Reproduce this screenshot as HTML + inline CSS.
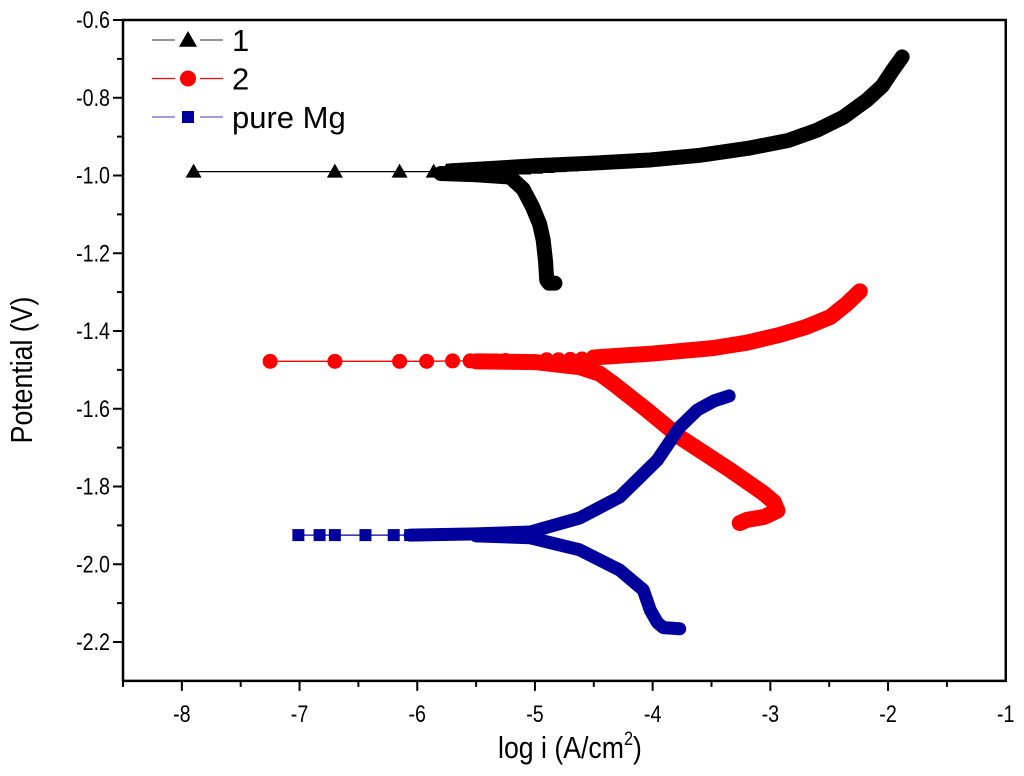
<!DOCTYPE html>
<html><head><meta charset="utf-8"><style>
body{margin:0;background:#fff}
svg{display:block;font-family:"Liberation Sans",sans-serif}
</style></head><body>
<svg id="chart" width="1024" height="776" viewBox="0 0 1024 776">
<g id="axes"></g>
<g id="series"></g>
<g id="legend"></g>
</svg>
<script>
// data
const xTicks=[-8,-7,-6,-5,-4,-3,-2,-1];
const yTicks=[-0.6,-0.8,-1.0,-1.2,-1.4,-1.6,-1.8,-2.0,-2.2];
// series 1
const s1SparseX=[-7.9,-6.7,-6.15,-5.86,-5.75,-5.65,-5.55,-5.45,-5.38,-5.3,-5.22,-5.1,-5.0,-4.9,-4.8,-4.7,-4.6,-4.5,-4.4];
const s1SparseY=[-0.99,-0.99,-0.99,-0.99,-0.988,-0.988,-0.987,-0.987,-0.986,-0.985,-0.984,-0.982,-0.98,-0.978,-0.976,-0.974,-0.972,-0.97,-0.968];
const s1CathX=[-5.8,-5.5,-5.21,-5.1,-5.02,-4.96,-4.93,-4.91,-4.9,-4.88,-4.83];
const s1CathY=[-0.995,-0.998,-1.004,-1.035,-1.081,-1.125,-1.166,-1.22,-1.269,-1.277,-1.277];
const s1AnodX=[-5.72,-5.0,-4.5,-4.02,-3.6,-3.17,-2.85,-2.6,-2.38,-2.18,-2.05,-1.96,-1.88];
const s1AnodY=[-0.988,-0.975,-0.968,-0.96,-0.948,-0.929,-0.91,-0.883,-0.85,-0.806,-0.77,-0.729,-0.695];
// series 2
const s2SparseX=[-7.25,-6.7,-6.15,-5.92,-5.7,-5.55,-5.45,-5.35,-5.25,-4.9,-4.8,-4.7,-4.6,-4.5];
const s2SparseY=[-1.478,-1.478,-1.478,-1.478,-1.477,-1.477,-1.477,-1.477,-1.476,-1.474,-1.474,-1.473,-1.472,-1.47];
const s2AnodX=[-4.5,-4.0,-3.49,-3.2,-2.92,-2.7,-2.49,-2.35,-2.24];
const s2AnodY=[-1.468,-1.458,-1.444,-1.43,-1.41,-1.39,-1.364,-1.33,-1.298];
const s2CathX=[-5.5,-5.0,-4.62,-4.45,-4.34,-4.05,-3.77,-3.34,-3.06,-2.97,-2.94,-3.05,-3.2,-3.26];
const s2CathY=[-1.478,-1.48,-1.493,-1.51,-1.534,-1.603,-1.673,-1.758,-1.817,-1.84,-1.862,-1.878,-1.886,-1.894];
// series 3 (pure Mg)
const s3SparseX=[-7.01,-6.83,-6.7,-6.44,-6.2,-6.06];
const s3SparseY=[-1.925,-1.925,-1.925,-1.925,-1.925,-1.925];
const s3AnodX=[-6.06,-5.5,-5.04,-4.62,-4.28,-3.96,-3.77,-3.62,-3.48,-3.35];
const s3AnodY=[-1.925,-1.922,-1.917,-1.881,-1.827,-1.732,-1.647,-1.603,-1.58,-1.567];
const s3CathX=[-5.5,-5.04,-4.62,-4.28,-4.08,-4.02,-3.96,-3.91,-3.77];
const s3CathY=[-1.927,-1.932,-1.963,-2.015,-2.066,-2.118,-2.15,-2.163,-2.166];

const X0=123,XS=117.7,Y0=20,YS=388.75;
const px=x=>X0+(x+8.5)*XS, py=y=>Y0+(-0.6-y)*YS;
const NS="http://www.w3.org/2000/svg";
function mk(tag,attrs,parent){const e=document.createElementNS(NS,tag);for(const k in attrs)e.setAttribute(k,attrs[k]);parent.appendChild(e);return e;}
const axes=document.getElementById('axes'),ser=document.getElementById('series'),leg=document.getElementById('legend');
const L=px(-8.5),R=px(-1),T=py(-0.6),B=py(-2.3);
let frame=mk('rect',{x:L,y:T,width:R-L,height:B-T,fill:'none',stroke:'#000','stroke-width':2.5},axes);


for(let v=-8.5;v<=-1.01;v+=0.5){const major=Math.abs(v-Math.round(v))<1e-6;
 let t=mk('line',{x1:px(v),x2:px(v),y1:B,y2:B+(major?10:6),stroke:'#000','stroke-width':2},axes);
 
 }
xTicks.forEach(v=>{const x=px(v);let t=mk('text',{x:0,y:0,'text-anchor':'middle','font-size':24,transform:`translate(${x},${B+41}) scale(0.82,1)`},axes);t.textContent=v;
 
 });
for(let i=0;i<=16;i++){const v=-0.6-i*0.1;const major=i%2===0;
 let t=mk('line',{x1:L-(major?10:6),x2:L,y1:py(v),y2:py(v),stroke:'#000','stroke-width':2},axes);
 
 }
yTicks.forEach(v=>{let t=mk('text',{x:0,y:0,'text-anchor':'end','font-size':24,transform:`translate(${L-13},${py(v)+8}) scale(0.82,1)`},axes);t.textContent=v.toFixed(1);
 
 });
let xt=mk('text',{x:0,y:0,'text-anchor':'middle','font-size':31,transform:'translate(570,758) scale(0.86,1)'},axes);
xt.innerHTML='log i (A/cm<tspan font-size="19" dy="-13">2</tspan><tspan dy="13">)</tspan>';


let yt=mk('text',{x:0,y:0,'text-anchor':'middle','font-size':31,transform:'translate(32,370) rotate(-90) scale(0.86,1)'},axes);
yt.textContent='Potential (V)';



function marker(type,x,y,color,g,s){
 let m;
 if(type==='tri') m=mk('polygon',{points:`${x},${y-s} ${x-s},${y+s*0.75} ${x+s},${y+s*0.75}`,fill:color},g);
 else if(type==='circ') m=mk('circle',{cx:x,cy:y,r:s,fill:color},g);
 else m=mk('rect',{x:x-s,y:y-s,width:2*s,height:2*s,fill:color},g);
 
 
}
function series(name,color,type,sx,sy,branches,thick,ms){
 const g=mk('g',{},ser);
 
 
 let ln=mk('polyline',{points:sx.map((x,i)=>px(x)+','+py(sy[i])).join(' '),fill:'none',stroke:color,'stroke-width':1.3},g);
 
 
 branches.forEach(([bx,by])=>{
  let p=mk('polyline',{points:bx.map((x,i)=>px(x)+','+py(by[i])).join(' '),fill:'none',stroke:color,'stroke-width':thick,'stroke-linejoin':'round','stroke-linecap':'round'},g);
  
  
 });
 sx.forEach((x,i)=>marker(type,px(x),py(sy[i]),color,g,ms));
}
series('series-1','#000','tri',s1SparseX,s1SparseY,[[s1CathX,s1CathY],[s1AnodX,s1AnodY]],15,8);
series('series-2','#f00','circ',s2SparseX,s2SparseY,[[s2CathX,s2CathY],[s2AnodX,s2AnodY]],16,7.5);
series('series-pure-mg','#00009c','sq',s3SparseX,s3SparseY,[[s3CathX,s3CathY],[s3AnodX,s3AnodY]],13,6);

const legItems=[['1','#000','tri',9,'#555'],['2','#f00','circ',8,'#f00'],['pure Mg','#00009c','sq',6,'#6666cc']];
legItems.forEach((it,i)=>{
 const y=40+i*38.5;const g=mk('g',{},leg);
 
 
 mk('line',{x1:152,x2:175,y1:y,y2:y,stroke:it[4],'stroke-width':1.2},g);
 mk('line',{x1:200,x2:223,y1:y,y2:y,stroke:it[4],'stroke-width':1.2},g);
 marker(it[2],188,y,it[1],g,it[3]);
 const t=mk('text',{x:232,y:y+11,'font-size':31},g);t.textContent=it[0];
});
</script>
</body></html>
